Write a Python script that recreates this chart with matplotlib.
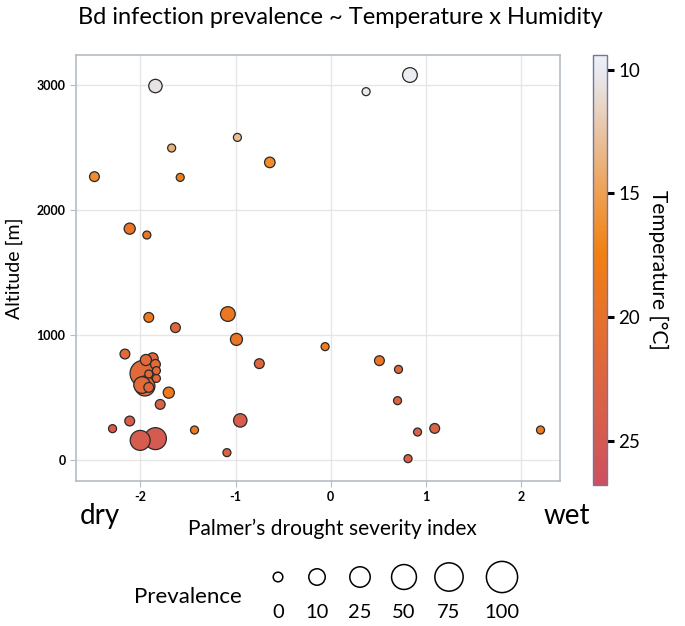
import numpy as np
import matplotlib
matplotlib.use("Agg")
import matplotlib.pyplot as plt
from matplotlib.colors import LinearSegmentedColormap, Normalize

plt.rcParams['font.family'] = ['Lato', 'DejaVu Sans']
plt.rcParams['axes.unicode_minus'] = False

# drought index (PDSI), altitude [m], temperature [C], Bd prevalence [%]
pdsi = [-1.84, 0.37, 0.83, -0.98, -1.67, -0.64, -2.48, -1.58, -2.11, -1.93,
        -1.91, -1.63, -1.08, -0.99, -0.06, -2.16, -0.75, 0.51, 0.71, 0.70,
        -1.70, -1.79, -2.11, -2.29, -2.00, -1.84, -1.43, -0.95, -1.09, 0.91,
        1.09, 0.81, 2.20,
        -1.97, -1.94, -1.87, -1.84, -1.83, -1.91, -1.95, -1.91, -1.98, -1.83]
altitude = [2992, 2947, 3080, 2581, 2496, 2381, 2267, 2261, 1851, 1800,
            1141, 1059, 1168, 965, 907, 848, 771, 795, 725, 475,
            539, 445, 312, 251, 157, 171, 240, 317, 59, 224,
            253, 11, 240,
            693, 800, 813, 765, 715, 688, 592, 581, 600, 653]
temperature = [10.5, 10.0, 9.8, 13.0, 14.0, 16.5, 16.5, 17.5, 19.5, 19.5,
               18.5, 22.0, 19.0, 19.5, 18.0, 21.5, 22.5, 19.5, 22.0, 22.5,
               18.5, 23.0, 24.0, 24.0, 24.5, 25.0, 18.5, 24.0, 23.0, 23.5,
               23.0, 23.5, 18.5,
               21.5, 21.5, 22.0, 21.5, 21.5, 21.5, 21.5, 22.0, 21.5, 21.5]
prevalence = [9, 0, 14, 0, 0, 2, 1, 0, 3, 0,
              1, 1, 14, 5, 0, 1, 1, 1, 0, 0,
              3, 1, 1, 0, 44, 60, 0, 9, 0, 0,
              1, 0, 0,
              100, 3, 3, 1, 0, 0, 44, 1, 23, 0]

legend_vals = [0, 10, 25, 50, 75, 100]
temp_ticks = [10, 15, 20, 25]

cmap = LinearSegmentedColormap.from_list("temp", [
    (0.00, "#EEF0F5"), (0.04, "#E8E9EE"), (0.18, "#E9C3A3"), (0.32, "#EEA052"),
    (0.46, "#F28012"), (0.61, "#E8712C"), (0.75, "#DE6540"), (0.90, "#D45A52"),
    (1.00, "#CC5060")])
norm = Normalize(vmin=9.4, vmax=26.8)


def size_pts(p, scale=1.0):
    r_px = scale * (4 + 0.9 * np.sqrt(np.asarray(p, dtype=float)))
    return (2 * r_px * 0.72) ** 2


fig = plt.figure(figsize=(6.85, 6.26), dpi=100)
ax = fig.add_axes([0.111, 0.2316, 0.7066, 0.6805])

order = np.argsort(prevalence)[::-1]
x = np.array(pdsi)[order]
y = np.array(altitude)[order]
t = np.array(temperature)[order]
p = np.array(prevalence)[order]
ax.scatter(x, y, s=size_pts(p), c=t, cmap=cmap, norm=norm,
           edgecolors="#2a2a2a", linewidths=0.9, zorder=3)

ax.set_xlim(-2.673, 2.405)
ax.set_ylim(-168, 3240)
ax.set_xticks([-2, -1, 0, 1, 2])
ax.set_yticks([0, 1000, 2000, 3000])
ax.grid(True, color="#e6e6e6", linewidth=1.0, zorder=0)
for s in ax.spines.values():
    s.set_color("#b4bcc4")
    s.set_linewidth(1.2)
ax.tick_params(axis="both", colors="#b4bcc4", length=4, width=0.8)
ax.tick_params(axis="both", labelcolor="black", labelsize=9)
for lab in ax.get_xticklabels() + ax.get_yticklabels():
    lab.set_fontweight("bold")
ax.set_ylabel("Altitude [m]", fontsize=14, labelpad=10)

fig.text(0.497, 1 - 17 / 626, "Bd infection prevalence ~ Temperature x Humidity",
         ha="center", va="center", fontsize=17)
fig.text(0.485, 1 - 529 / 626, "Palmer\u2019s drought severity index",
         ha="center", va="center", fontsize=15)
fig.text(100 / 685, 1 - 516 / 626, "dry", ha="center", va="center", fontsize=20)
fig.text(567 / 685, 1 - 516 / 626, "wet", ha="center", va="center", fontsize=20)

# colorbar
cax = fig.add_axes([0.8657, 0.2252, 0.0204, 0.6869])
sm = plt.cm.ScalarMappable(norm=norm, cmap=cmap)
cb = fig.colorbar(sm, cax=cax, ticks=temp_ticks)
cax.invert_yaxis()
cb.outline.set_edgecolor("#6a78a8")
cb.outline.set_linewidth(1.0)
cax.tick_params(length=5, width=2.2, pad=3, labelsize=13.5, direction="out")
cb.set_label("Temperature [\u00b0C]", rotation=270, fontsize=15, labelpad=20)

# prevalence legend
lax = fig.add_axes([0, 0, 1, 1])
lax.set_xlim(0, 685)
lax.set_ylim(626, 0)
lax.axis("off")
lx = [278, 317, 360, 404, 449, 502]
lax.scatter(lx, [577] * len(lx), s=size_pts(legend_vals, 1.2),
            facecolors="white", edgecolors="black", linewidths=1.1)
for xx, v in zip(lx, legend_vals):
    lax.text(xx, 612, str(v), ha="center", va="center", fontsize=14.5)
lax.text(188, 597, "Prevalence", ha="center", va="center", fontsize=16)

fig.savefig("out.png", dpi=100)
